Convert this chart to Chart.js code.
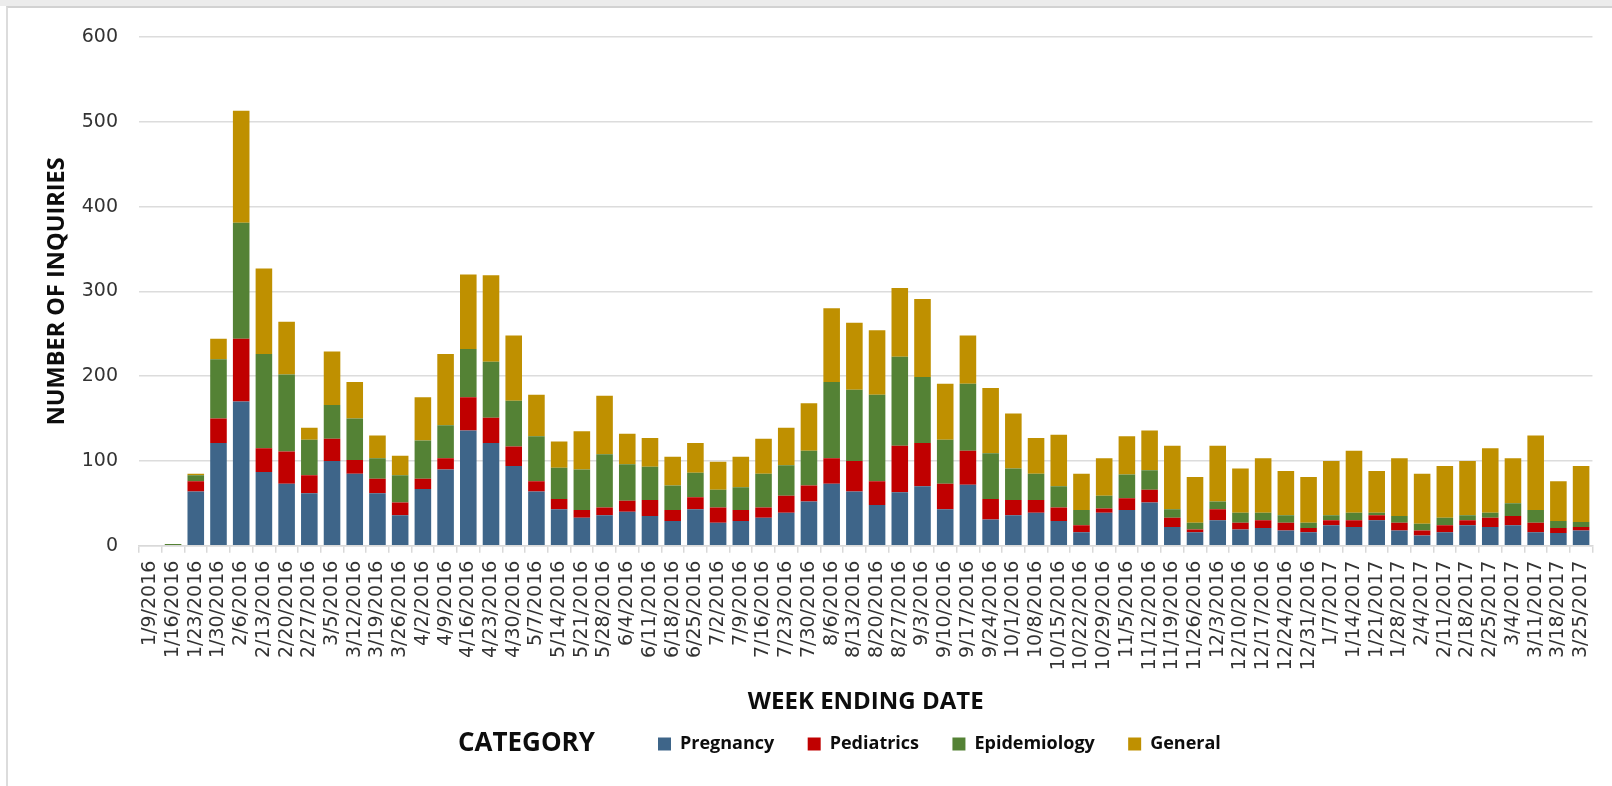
<!DOCTYPE html>
<html>
<head>
<meta charset="utf-8">
<title>Inquiries by week</title>
<script src="https://cdn.jsdelivr.net/npm/chart.js@4.4.1/dist/chart.umd.min.js"></script>
<style>
  html, body { margin: 0; padding: 0; background: #fff; }
  body { width: 1612px; height: 786px; position: relative; overflow: hidden; }
  #topband { position: absolute; left: 0; top: 0; width: 1612px; height: 6px; background: #ececec; }
  #frame { position: absolute; left: 6px; top: 6px; width: 1700px; height: 900px;
           border-top: 2px solid #d2d2d2; border-left: 2px solid #dcdcdc; }
  #wrap { position: absolute; left: 0; top: 0; width: 1612px; height: 786px; }
</style>
</head>
<body>
<div id="topband"></div>
<div id="frame"></div>
<div id="wrap"><canvas id="chart"></canvas></div>
<script>
/* data */
const weeks = [
  "1/9/2016", "1/16/2016", "1/23/2016", "1/30/2016", "2/6/2016", "2/13/2016", "2/20/2016", "2/27/2016",
  "3/5/2016", "3/12/2016", "3/19/2016", "3/26/2016", "4/2/2016", "4/9/2016", "4/16/2016", "4/23/2016",
  "4/30/2016", "5/7/2016", "5/14/2016", "5/21/2016", "5/28/2016", "6/4/2016", "6/11/2016", "6/18/2016",
  "6/25/2016", "7/2/2016", "7/9/2016", "7/16/2016", "7/23/2016", "7/30/2016", "8/6/2016", "8/13/2016",
  "8/20/2016", "8/27/2016", "9/3/2016", "9/10/2016", "9/17/2016", "9/24/2016", "10/1/2016", "10/8/2016",
  "10/15/2016", "10/22/2016", "10/29/2016", "11/5/2016", "11/12/2016", "11/19/2016", "11/26/2016", "12/3/2016",
  "12/10/2016", "12/17/2016", "12/24/2016", "12/31/2016", "1/7/2017", "1/14/2017", "1/21/2017", "1/28/2017",
  "2/4/2017", "2/11/2017", "2/18/2017", "2/25/2017", "3/4/2017", "3/11/2017", "3/18/2017", "3/25/2017"
];
const pregnancy = [
  0, 0, 64, 121, 170, 87, 73, 62, 100, 85, 62, 36, 67, 90, 136, 121,
  94, 64, 43, 33, 36, 40, 35, 29, 43, 27, 29, 33, 39, 52, 73, 64,
  48, 63, 70, 43, 72, 31, 36, 39, 29, 16, 39, 42, 51, 22, 16, 30,
  19, 21, 18, 16, 24, 22, 30, 18, 12, 16, 24, 22, 24, 16, 15, 18
];
const pediatrics = [
  0, 0, 12, 29, 74, 28, 38, 21, 26, 16, 17, 15, 12, 13, 39, 30,
  23, 12, 12, 9, 9, 13, 19, 13, 14, 18, 13, 12, 20, 19, 30, 36,
  28, 55, 51, 30, 40, 24, 18, 15, 16, 8, 5, 14, 15, 11, 3, 13,
  8, 9, 9, 5, 6, 8, 6, 9, 6, 8, 6, 11, 11, 11, 6, 4
];
const epidemiology = [
  0, 2, 7, 70, 137, 111, 91, 42, 40, 49, 24, 32, 45, 39, 57, 66,
  54, 53, 37, 48, 63, 43, 39, 29, 29, 21, 27, 40, 36, 41, 90, 84,
  102, 105, 78, 52, 79, 54, 37, 31, 25, 18, 15, 28, 23, 10, 8, 9,
  12, 9, 9, 6, 6, 9, 3, 8, 8, 9, 6, 6, 15, 15, 8, 6
];
const general = [
  0, 0, 2, 24, 132, 101, 62, 14, 63, 43, 27, 23, 51, 84, 88, 102,
  77, 49, 31, 45, 69, 36, 34, 34, 35, 33, 36, 41, 44, 56, 87, 79,
  76, 81, 92, 66, 57, 77, 65, 42, 61, 43, 44, 45, 47, 75, 54, 66,
  52, 64, 52, 54, 64, 73, 49, 68, 59, 61, 64, 76, 53, 88, 47, 66
];
const yTicks = [0, 100, 200, 300, 400, 500, 600];

/* legend: move the row to where the picture has it and put the CATEGORY caption before it */
const legendSpot = {
  id: "legendSpot",
  afterLayout(chart) {
    const lg = chart.legend;
    const pad = lg.options.labels.padding;
    const start = (lg.left + pad + lg.right - lg.lineWidths[0]) / 2;
    const dx = 658 - start;
    lg.left += dx;
    lg.right += dx;
  },
  afterDraw(chart) {
    const hb = chart.legend.legendHitBoxes[0];
    if (!hb) return;
    const ctx = chart.ctx;
    ctx.save();
    ctx.font = 'bold 26px "Open Sans"';
    ctx.fillStyle = "#0d0d0d";
    ctx.textAlign = "right";
    ctx.textBaseline = "middle";
    ctx.fillText("CATEGORY", hb.left - 63, hb.top + hb.height / 2);
    ctx.restore();
  }
};

const tickFont = { family: "DejaVu Sans", size: 19 };
const gap = "     "; // extra room after each legend entry

function bars(label, data, color) {
  return {
    label, data,
    backgroundColor: color,
    borderWidth: 0,
    barPercentage: 0.73,
    categoryPercentage: 1.0
  };
}

function draw() {
  new Chart(document.getElementById("chart"), {
    type: "bar",
    data: {
      labels: weeks,
      datasets: [
        bars("Pregnancy", pregnancy, "#3e6589"),
        bars("Pediatrics", pediatrics, "#c00000"),
        bars("Epidemiology", epidemiology, "#548235"),
        bars("General", general, "#bf9000")
      ]
    },
    options: {
      responsive: true,
      maintainAspectRatio: false,
      animation: false,
      layout: { padding: { left: 20, right: 14, top: 37, bottom: 23 } },
      plugins: {
        tooltip: { enabled: false },
        legend: {
          position: "bottom",
          labels: {
            boxWidth: 13,
            boxHeight: 13,
            padding: 10,
            color: "#0d0d0d",
            font: { family: "Open Sans", weight: "bold", size: 18 },
            generateLabels: chart =>
              Chart.defaults.plugins.legend.labels.generateLabels(chart)
                .map(it => ({ ...it, text: it.text + gap, lineWidth: 0 }))
          }
        }
      },
      scales: {
        x: {
          stacked: true,
          grid: { drawOnChartArea: false, tickLength: 7, color: "#d9d9d9", lineWidth: 1.5 },
          border: { display: true, color: "#d9d9d9", width: 1.5 },
          ticks: {
            autoSkip: false, minRotation: 90, maxRotation: 90, padding: 8,
            color: "#333333", font: tickFont
          },
          title: {
            display: true, text: "WEEK ENDING DATE", color: "#0d0d0d",
            font: { family: "Open Sans", weight: "bold", size: 24 },
            padding: { top: 10, bottom: 8 }
          }
        },
        y: {
          stacked: true,
          min: 0,
          max: 600,
          afterFit: s => { s.width = 119; },
          afterBuildTicks: s => { s.ticks = yTicks.map(v => ({ value: v })); },
          grid: { color: "#dcdcdc", lineWidth: 1.5, drawTicks: false },
          border: { display: false },
          ticks: { padding: 21, color: "#333333", font: tickFont },
          title: {
            display: true, text: "NUMBER OF INQUIRIES", color: "#0d0d0d",
            font: { family: "Open Sans", weight: "bold", size: 23.5 },
            padding: { top: 23, bottom: 0 }
          }
        }
      }
    },
    plugins: [legendSpot]
  });
}

Promise.all([
  document.fonts.load('bold 24px "Open Sans"'),
  document.fonts.load('19px "DejaVu Sans"')
]).then(draw, draw);
</script>
</body>
</html>
